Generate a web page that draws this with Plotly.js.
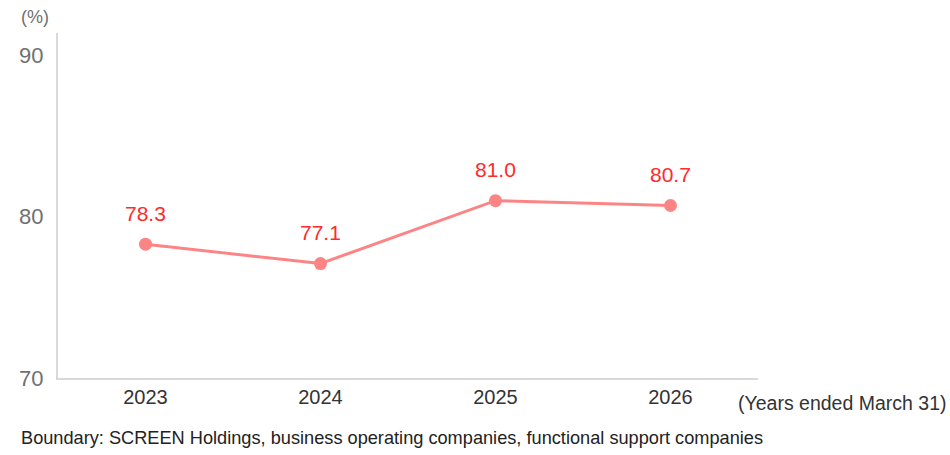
<!DOCTYPE html>
<html><head><meta charset="utf-8">
<script src="https://cdn.plot.ly/plotly-3.0.1.min.js"></script>
<style>
html,body{margin:0;padding:0;background:#fff;}
#chart{width:950px;height:455px;}
</style>
</head><body><div id="chart"></div>
<script>
const years = ['2023', '2024', '2025', '2026'];
const values = [78.3, 77.1, 81.0, 80.7];
const labels = ['78.3', '77.1', '81.0', '80.7'];
const yTicks = [70, 80, 90];

const FONT = '"Liberation Sans", Arial, sans-serif';

const trace = {
  x: years, y: values, type: 'scatter', mode: 'lines+markers',
  line: {color: '#fd8484', width: 3},
  marker: {color: '#fd8484', size: 13},
  hoverinfo: 'skip'
};

const annotations = years.map((yr, i) => ({
  x: i, y: values[i], xref: 'x', yref: 'y', text: labels[i], showarrow: false,
  xanchor: 'center', yanchor: 'middle',
  yshift: 31, font: {family: FONT, size: 21, color: '#ff2a2a'}
}));
annotations.push({xref: 'paper', yref: 'paper', x: -0.033, y: 1.0, yshift: 16, xanchor: 'center', yanchor: 'middle',
  text: '(%)', showarrow: false, font: {family: FONT, size: 18, color: '#707070'}});
annotations.push({xref: 'paper', yref: 'paper', x: 1.0, y: 0, xanchor: 'left', yanchor: 'middle', xshift: -22, yshift: -25,
  text: '(Years ended March 31)', showarrow: false, font: {family: FONT, size: 19.5, color: '#333'}});
annotations.push({xref: 'paper', yref: 'paper', x: 0, y: 0, xanchor: 'left', yanchor: 'middle', xshift: -39, yshift: -60,
  text: 'Boundary: SCREEN Holdings, business operating companies, functional support companies', showarrow: false,
  font: {family: FONT, size: 18.2, color: '#222'}});

const layout = {
  width: 950, height: 455,
  margin: {l: 58, r: 192, t: 33, b: 77},
  paper_bgcolor: '#fff', plot_bgcolor: '#fff',
  showlegend: false,
  xaxis: {type: 'category', range: [-0.5, 3.5], showgrid: false, zeroline: false,
    showline: true, linecolor: '#d9d9d9', linewidth: 2, ticks: '',
    tickfont: {family: FONT, size: 20, color: '#333'}, fixedrange: true},
  yaxis: {range: [70, 91.4], tickvals: yTicks, ticktext: yTicks.map(String), showgrid: false, zeroline: false,
    showline: true, linecolor: '#d9d9d9', linewidth: 2, ticks: '', ticklen: 0, ticklabelstandoff: 8,
    tickfont: {family: FONT, size: 22, color: '#707070'}, fixedrange: true},
  annotations: annotations
};
Plotly.newPlot('chart', [trace], layout, {displayModeBar: false, staticPlot: true});
</script></body></html>
